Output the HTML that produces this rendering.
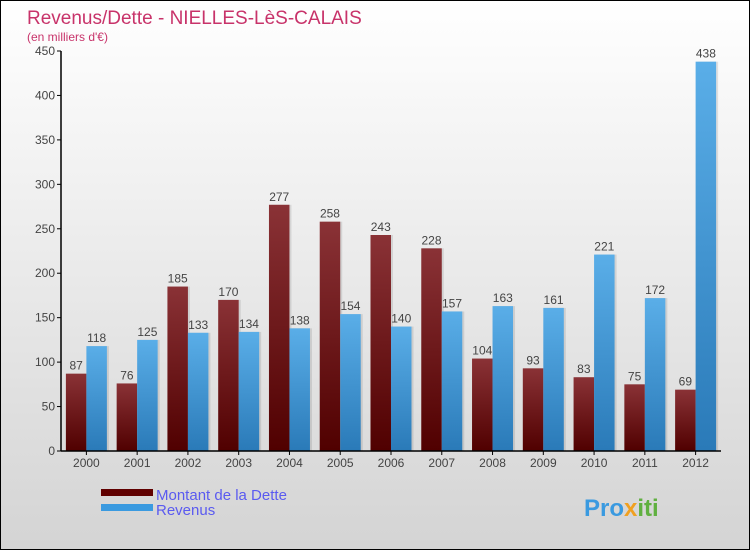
<!DOCTYPE html>
<html><head><meta charset="utf-8"><style>
body{margin:0}
#c{width:750px;height:550px;position:relative;box-sizing:border-box;border:1px solid #000;background:linear-gradient(#fff,#d4d4d4);font-family:"Liberation Sans",sans-serif;overflow:hidden}
</style></head><body>
<div id="c">
<svg width="748" height="548" id="s">
<defs>
<linearGradient id="gd" x1="0" y1="0" x2="0" y2="1"><stop offset="0" stop-color="#8a3236"/><stop offset="1" stop-color="#500000"/></linearGradient>
<linearGradient id="gr" x1="0" y1="0" x2="0" y2="1"><stop offset="0" stop-color="#5aaee8"/><stop offset="1" stop-color="#2a7ab8"/></linearGradient>
</defs>
<text x="26" y="23" font-size="19" fill="#c8336a">Revenus/Dette - NIELLES-LèS-CALAIS</text>
<text x="26" y="40" font-size="12" fill="#c8336a">(en milliers d'€)</text>
<g id="g"></g>
<rect x="100" y="488" width="52" height="7" fill="#600000"/>
<rect x="100" y="503" width="52" height="7" fill="#3a9ae0"/>
<text x="155" y="499" font-size="15" fill="#5a5af0">Montant de la Dette</text>
<text x="155" y="514" font-size="15" fill="#5a5af0">Revenus</text>
<text x="583" y="515" font-size="24" font-weight="bold" fill="#3a9ae0">Pro<tspan fill="#f0a020">x</tspan><tspan fill="#60b040">iti</tspan></text>
</svg>
</div>
<script>
const years=["2000","2001","2002","2003","2004","2005","2006","2007","2008","2009","2010","2011","2012"];
const dette=[87,76,185,170,277,258,243,228,104,93,83,75,69];
const revenus=[118,125,133,134,138,154,140,157,163,161,221,172,438];
const ticks=[0,50,100,150,200,250,300,350,400,450];
const NS="http://www.w3.org/2000/svg";
const g=document.getElementById('g');
const x0=60,x1=720,y0=450,yMax=450,h=400;
const y=v=>y0-v*h/yMax;
const step=(x1-x0)/years.length;
function mk(t,a,txt){const e=document.createElementNS(NS,t);for(const k in a)e.setAttribute(k,a[k]);if(txt!=null)e.textContent=txt;g.appendChild(e);return e;}
ticks.forEach(t=>{
 const l=mk('line',{x1:x0-4,x2:x0,y1:y(t),y2:y(t),stroke:'#000'});
 
 
 const tx=mk('text',{x:x0-6,y:y(t)+4,'font-size':12,'text-anchor':'end',fill:'#444'},t);
 
 
});
years.forEach((yr,i)=>{
 const c=x0+step*(i+0.5);
 const bw=20.5;
 [[dette[i],'url(#gd)',c-bw,'bar-dette-'+yr],[revenus[i],'url(#gr)',c,'bar-revenus-'+yr]].forEach(([v,f,bx,n])=>{
  const sh=mk('rect',{x:bx+2,y:y(v),width:bw,height:y0-y(v),fill:'#000','fill-opacity':0.1});
  
  
  const r=mk('rect',{x:bx,y:y(v),width:bw,height:y0-y(v),fill:f});
  
  
  const t=mk('text',{x:bx+bw/2,y:y(v)-4,'font-size':12,'text-anchor':'middle',fill:'#444'},v);
  
  
 });
 const tk=mk('line',{x1:c,x2:c,y1:y0,y2:y0+4,stroke:'#000'});
 
 
 const tl=mk('text',{x:c,y:y0+16,'font-size':12,'text-anchor':'middle',fill:'#444'},yr);
 
 
});
const ya=mk('line',{x1:x0,x2:x0,y1:y(450),y2:y0,stroke:'#000','stroke-width':1.5});


const xa=mk('line',{x1:x0,x2:x1,y1:y0,y2:y0,stroke:'#000','stroke-width':1.5});


</script>
</body></html>
